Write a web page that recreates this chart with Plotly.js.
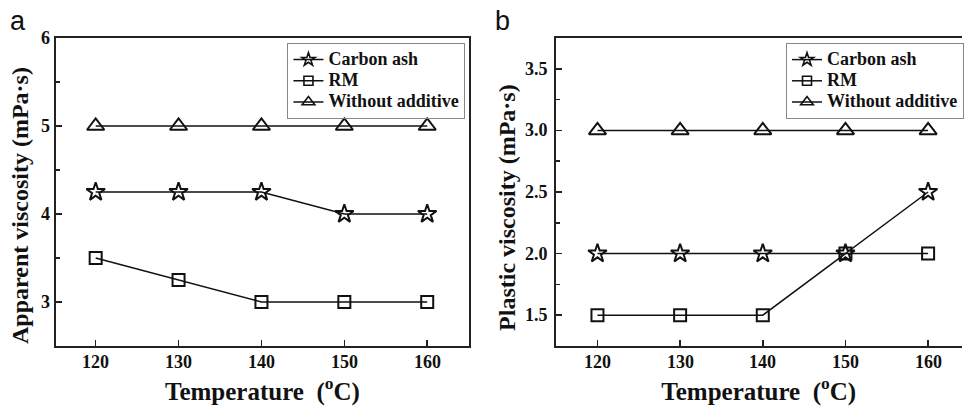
<!DOCTYPE html>
<html>
<head>
<meta charset="utf-8">
<script src="https://cdn.plot.ly/plotly-3.0.1.min.js"></script>
<style>html,body{margin:0;padding:0;background:#fff;}#chart{width:964px;height:406px;}</style>
</head>
<body>
<div id="chart"></div>
<script>
const temperature = [120, 130, 140, 150, 160];
const apparentCarbonAsh = [4.25, 4.25, 4.25, 4.0, 4.0];
const apparentRM = [3.5, 3.25, 3.0, 3.0, 3.0];
const apparentWithout = [5, 5, 5, 5, 5];
const plasticCarbonAsh = [2.0, 2.0, 2.0, 2.0, 2.5];
const plasticRM = [1.5, 1.5, 1.5, 2.0, 2.0];
const plasticWithout = [3.0, 3.0, 3.0, 3.0, 3.0];
const seriesNames = ['Carbon ash', 'RM', 'Without additive'];
const xTicks = [120, 130, 140, 150, 160];
const yTicksA = [3, 4, 5, 6];
const yTickLabelsA = ['3', '4', '5', '6'];
const yTicksB = [1.5, 2.0, 2.5, 3.0, 3.5];
const yTickLabelsB = ['1.5', '2.0', '2.5', '3.0', '3.5'];
const yTitleA = 'Apparent viscosity (mPa·s)';
const yTitleB = 'Plastic viscosity (mPa·s)';
const xTitle = 'Temperature  (<sup>o</sup>C)';

const serif = 'Liberation Serif';
const symbols = ['star-open', 'square-open', 'triangle-up-open'];
const sizes = [14, 12, 15];
const legSizes = [10, 9, 11];

function mk(y, i, xa, ya) {
  return {
    x: temperature, y: y, name: seriesNames[i], type: 'scatter', mode: 'lines+markers',
    xaxis: xa, yaxis: ya, showlegend: false,
    line: {color: '#111', width: 1.5},
    marker: {symbol: symbols[i], size: sizes[i], color: '#111', line: {color: '#111', width: 2}}
  };
}
function legEntry(i, xa, ya, leg) {
  return {
    x: [null], y: [null], name: '<span style="font-size:18px">' + seriesNames[i] + '</span>',
    type: 'scatter', mode: 'lines+markers',
    xaxis: xa, yaxis: ya, legend: leg, showlegend: true,
    line: {color: '#111', width: 1.5},
    marker: {symbol: symbols[i], size: legSizes[i], color: '#111', line: {color: '#111', width: 1.6}}
  };
}
const data = [
  mk(apparentCarbonAsh, 0, 'x', 'y'),
  mk(apparentRM, 1, 'x', 'y'),
  mk(apparentWithout, 2, 'x', 'y'),
  mk(plasticCarbonAsh, 0, 'x2', 'y2'),
  mk(plasticRM, 1, 'x2', 'y2'),
  mk(plasticWithout, 2, 'x2', 'y2'),
  legEntry(0, 'x', 'y', 'legend'), legEntry(1, 'x', 'y', 'legend'), legEntry(2, 'x', 'y', 'legend'),
  legEntry(0, 'x2', 'y2', 'legend2'), legEntry(1, 'x2', 'y2', 'legend2'), legEntry(2, 'x2', 'y2', 'legend2')
];

function titleFont(s) { return {family: serif, size: s, color: '#111', weight: 'bold'}; }
function xax(domain, range, anchor) {
  return {
    domain: domain, range: range, anchor: anchor, tickmode: 'array',
    tickvals: xTicks, showticklabels: false,
    ticks: 'inside', ticklen: 6, tickwidth: 1.5, tickcolor: '#222',
    showline: true, linecolor: '#222', linewidth: 2, mirror: true,
    showgrid: false, zeroline: false,
    title: {text: xTitle, font: titleFont(25), standoff: 36}
  };
}
function yax(domain, range, anchor, vals, dtick, mirror) {
  return {
    domain: domain, range: range, anchor: anchor, tickmode: 'array',
    tickvals: vals, showticklabels: false,
    ticks: 'inside', ticklen: 6, tickwidth: 1.5, tickcolor: '#222',
    minor: {tickmode: 'linear', tick0: 0, dtick: dtick / 2, ticks: 'inside', ticklen: 4, tickwidth: 1.5, tickcolor: '#222'},
    showline: true, linecolor: '#222', linewidth: 2, mirror: mirror,
    showgrid: false, zeroline: false
  };
}
const yd = [0.1478, 0.9064];
function legFont() { return {family: serif, size: 14, color: '#111', weight: 'bold'}; }
function legend(x) {
  return {x: x, y: 1 - 43 / 406, xanchor: 'left', yanchor: 'top', bgcolor: 'rgba(255,255,255,0)',
    bordercolor: '#888', borderwidth: 1, font: legFont(), tracegroupgap: 0};
}
const tickLabelFont = {family: serif, size: 18, color: '#111', weight: 'bold'};
const annotations = [
  {text: 'a', xref: 'paper', yref: 'paper', x: 8 / 964, y: 1 - 4 / 406, xanchor: 'left', yanchor: 'top',
    showarrow: false, font: {family: 'Liberation Sans', size: 27, color: '#111'}},
  {text: 'b', xref: 'paper', yref: 'paper', x: 494 / 964, y: 1 - 4 / 406, xanchor: 'left', yanchor: 'top',
    showarrow: false, font: {family: 'Liberation Sans', size: 27, color: '#111'}},
  {text: yTitleA, xref: 'paper', yref: 'paper', x: 20 / 964, y: 1 - 205 / 406, xanchor: 'center', yanchor: 'middle',
    textangle: -90, showarrow: false, font: titleFont(24)},
  {text: yTitleB, xref: 'paper', yref: 'paper', x: 508 / 964, y: 1 - 207 / 406, xanchor: 'center', yanchor: 'middle',
    textangle: -90, showarrow: false, font: titleFont(24)}
];
['x', 'x2'].forEach(function (xr) {
  xTicks.forEach(function (v) {
    annotations.push({text: String(v), xref: xr, yref: 'paper', x: v, y: 1 - 362 / 406,
      xanchor: 'center', yanchor: 'middle', showarrow: false, font: tickLabelFont});
  });
});
yTicksA.forEach(function (v, i) {
  annotations.push({text: yTickLabelsA[i], xref: 'paper', yref: 'y', x: 52 / 964, y: v,
    xanchor: 'right', yanchor: 'middle', showarrow: false, font: tickLabelFont});
});
yTicksB.forEach(function (v, i) {
  annotations.push({text: yTickLabelsB[i], xref: 'paper', yref: 'y2', x: 551 / 964, y: v,
    xanchor: 'right', yanchor: 'middle', showarrow: false, font: tickLabelFont});
});
const layout = {
  width: 964, height: 406,
  margin: {l: 0, r: 0, t: 0, b: 0},
  font: {family: serif, color: '#111'},
  paper_bgcolor: '#fff', plot_bgcolor: '#fff',
  showlegend: true,
  xaxis: xax([0.0581, 0.4876], [115.2, 165.05], 'y'),
  yaxis: yax(yd, [2.5, 6], 'x', yTicksA, 1, true),
  xaxis2: xax([0.5775, 1.0], [114.93, 164.1], 'y2'),
  yaxis2: yax(yd, [1.25, 3.75], 'x2', yTicksB, 0.5, false),
  legend: legend(0.2988),
  legend2: legend(0.8174),
  annotations: annotations
};
Plotly.newPlot('chart', data, layout, {displayModeBar: false, staticPlot: true});
</script>
</body>
</html>
